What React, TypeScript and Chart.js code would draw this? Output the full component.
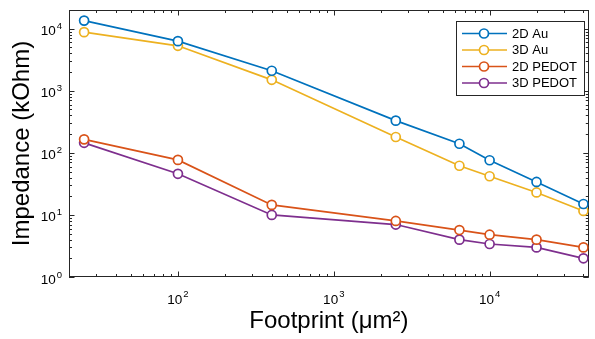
import React, { useEffect, useRef } from 'react';
import { Chart, registerables } from 'chart.js';

Chart.register(...registerables);

const footprints = [25, 100, 400, 2500, 6400, 10000, 20000, 40000];
const au2D = [13500, 6300, 2100, 330, 140, 76, 34, 15];
const au3D = [8800, 5300, 1500, 180, 62, 42, 23, 11.6];
const pedot2D = [165, 77, 14.5, 8, 5.7, 4.8, 4, 3];
const pedot3D = [145, 46, 10, 7, 4, 3.4, 3, 2];
const seriesNames = ['2D Au', '3D Au', '2D PEDOT', '3D PEDOT'];
const seriesValues = [au2D, au3D, pedot2D, pedot3D];
const seriesColors = ['#0072BD', '#EDB120', '#D95319', '#7E2F8E'];
const xTickValues = [100, 1000, 10000];
const yTickValues = [1, 10, 100, 1000, 10000];

const FONT = "'Liberation Sans', Arial, Helvetica, sans-serif";
const AXIS_COLOR = '#262626';

const exponentOf = (v: number) => String(Math.round(Math.log10(v)));

const boxTicksPlugin = {
  id: 'boxTicks',
  beforeDatasetsDraw(chart: any) {
    const { ctx, chartArea } = chart;
    const { left, right, top, bottom } = chartArea;
    ctx.save();
    ctx.strokeStyle = AXIS_COLOR;
    ctx.lineWidth = 1;
    ctx.strokeRect(Math.round(left) + 0.5, Math.round(top) + 0.5, Math.round(right - left) - 1, Math.round(bottom - top) - 1);
    const drawAxis = (scale: any, horizontal: boolean) => {
      const lo = Math.floor(Math.log10(scale.min));
      const hi = Math.ceil(Math.log10(scale.max));
      for (let d = lo; d <= hi; d++) {
        for (let m = 1; m <= 9; m++) {
          const v = m * Math.pow(10, d);
          if (v < scale.min * 0.999 || v > scale.max * 1.001) continue;
          const p = Math.round(scale.getPixelForValue(v)) + 0.5;
          const len = m === 1 ? 5.5 : 3;
          ctx.beginPath();
          if (horizontal) {
            ctx.moveTo(p, bottom); ctx.lineTo(p, bottom - len);
            ctx.moveTo(p, top); ctx.lineTo(p, top + len);
          } else {
            ctx.moveTo(left, p); ctx.lineTo(left + len, p);
            ctx.moveTo(right, p); ctx.lineTo(right - len, p);
          }
          ctx.stroke();
        }
      }
    };
    drawAxis(chart.scales.x, true);
    drawAxis(chart.scales.y, false);

    // power-of-ten tick labels with true superscripts
    const baseFont = `13.5px ${FONT}`;
    const supFont = `9.5px ${FONT}`;
    ctx.fillStyle = '#000000';
    ctx.textBaseline = 'alphabetic';
    ctx.textAlign = 'left';
    const xs = chart.scales.x;
    xs.ticks.forEach((t: any) => {
      const p = xs.getPixelForValue(t.value);
      const e = exponentOf(t.value);
      ctx.font = baseFont;
      const wb = ctx.measureText('10').width;
      ctx.font = supFont;
      const we = ctx.measureText(e).width;
      const x0 = p - (wb + 1 + we) / 2;
      ctx.font = baseFont;
      ctx.fillText('10', x0, bottom + 27);
      ctx.font = supFont;
      ctx.fillText(e, x0 + wb + 1, bottom + 20);
    });
    const ys = chart.scales.y;
    ys.ticks.forEach((t: any) => {
      const p = ys.getPixelForValue(t.value);
      const e = exponentOf(t.value);
      ctx.font = supFont;
      const we = ctx.measureText(e).width;
      ctx.font = baseFont;
      const wb = ctx.measureText('10').width;
      const xr = left - 7;
      ctx.fillText('10', xr - we - 1 - wb, p + 6.5);
      ctx.font = supFont;
      ctx.fillText(e, xr - we, p + 0.5);
    });
    ctx.restore();
  },
};

const legendPlugin = {
  id: 'matlabLegend',
  afterDraw(chart: any) {
    const { ctx } = chart;
    const x0 = 456, y0 = 21, w = 128, h = 74;
    ctx.save();
    ctx.fillStyle = '#ffffff';
    ctx.fillRect(x0, y0, w, h);
    ctx.strokeStyle = AXIS_COLOR;
    ctx.lineWidth = 1;
    ctx.strokeRect(x0 + 0.5, y0 + 0.5, w, h);
    ctx.font = `13px ${FONT}`;
    ctx.textBaseline = 'middle';
    ctx.textAlign = 'left';
    chart.data.datasets.forEach((ds: any, i: number) => {
      const y = y0 + 12.5 + i * 16.5;
      ctx.strokeStyle = ds.borderColor;
      ctx.lineWidth = 1.7;
      ctx.beginPath();
      ctx.moveTo(x0 + 6, y);
      ctx.lineTo(x0 + 51, y);
      ctx.stroke();
      ctx.beginPath();
      ctx.arc(x0 + 28, y, 4.5, 0, Math.PI * 2);
      ctx.fillStyle = '#ffffff';
      ctx.fill();
      ctx.stroke();
      ctx.fillStyle = '#000000';
      ctx.fillText(ds.label, x0 + 56, y + 0.5);
    });
    ctx.restore();
  },
};

export default function App() {
  const canvasRef = useRef<HTMLCanvasElement | null>(null);

  useEffect(() => {
    if (!canvasRef.current) return;
    const datasets = seriesNames.map((name, i) => ({
      label: name,
      data: footprints.map((x, j) => ({ x, y: seriesValues[i][j] })),
      borderColor: seriesColors[i],
      backgroundColor: '#ffffff',
      pointBackgroundColor: '#ffffff',
      pointBorderColor: seriesColors[i],
      pointBorderWidth: 1.7,
      pointRadius: 4.5,
      borderWidth: 1.7,
      tension: 0,
      fill: false,
    }));
    const chart = new Chart(canvasRef.current, {
      type: 'line',
      data: { datasets },
      plugins: [boxTicksPlugin, legendPlugin],
      options: {
        animation: false,
        responsive: false,
        layout: { padding: { top: 10, right: 2, left: 0, bottom: 0 } },
        plugins: { legend: { display: false }, tooltip: { enabled: false } },
        scales: {
          x: {
            type: 'logarithmic',
            min: 20,
            max: 43300,
            afterBuildTicks: (s: any) => { s.ticks = xTickValues.map((v) => ({ value: v })); },
            afterFit: (s: any) => { s.height = 62; },
            ticks: { display: false },
            grid: { display: false, drawTicks: false },
            border: { display: false },
            title: {
              display: true,
              text: 'Footprint (μm²)',
              color: '#000000',
              font: { family: FONT, size: 24 },
              padding: { top: 0, bottom: 3 },
            },
          },
          y: {
            type: 'logarithmic',
            min: 1,
            max: 20000,
            afterBuildTicks: (s: any) => { s.ticks = yTickValues.map((v) => ({ value: v })); },
            afterFit: (s: any) => { s.width = 69; },
            ticks: { display: false },
            grid: { display: false, drawTicks: false },
            border: { display: false },
            title: {
              display: true,
              text: 'Impedance (kOhm)',
              color: '#000000',
              font: { family: FONT, size: 24 },
              padding: { top: 8, bottom: 0 },
            },
          },
        },
      },
    } as any);
    return () => chart.destroy();
  }, []);

  return (
    <div style={{ position: 'fixed', left: 0, top: 0, width: 595, height: 339, background: '#ffffff' }}>
      <canvas ref={canvasRef} width={595} height={339} />
    </div>
  );
}
